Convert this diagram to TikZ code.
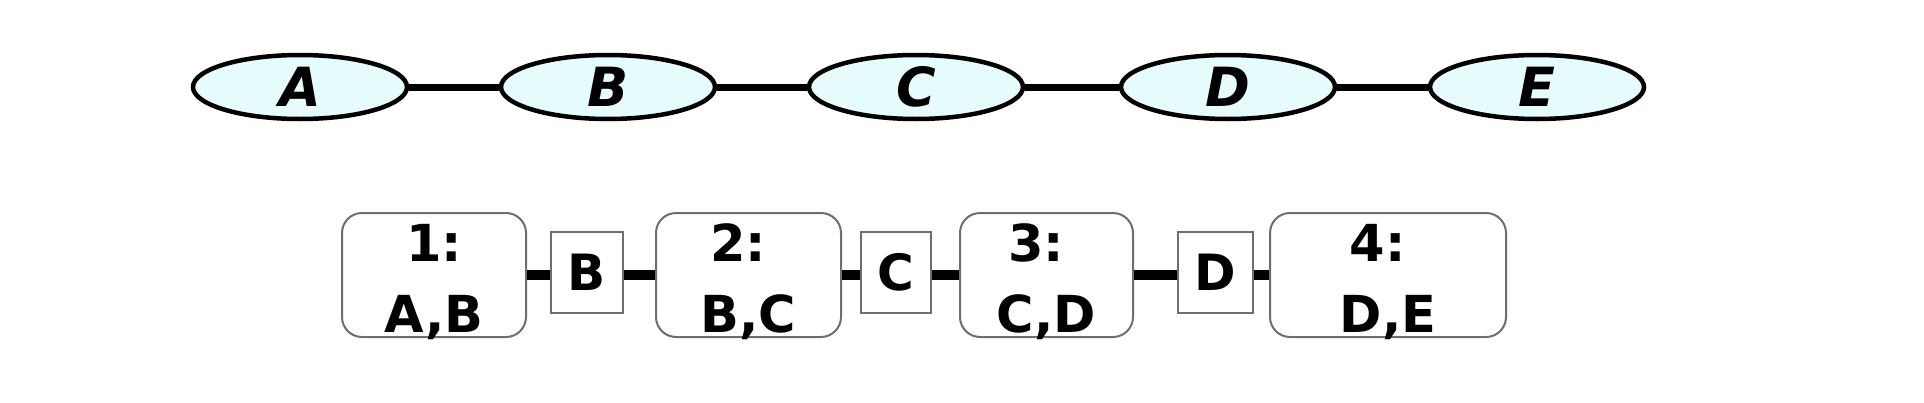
\documentclass[tikz,border=0pt]{standalone}
\usepackage{fontspec}
\setmainfont{DejaVu Sans}
\usetikzlibrary{shapes.geometric}
\definecolor{ellfill}{RGB}{230,252,252}
\definecolor{boxline}{RGB}{110,110,110}
\tikzset{
  varnode/.style={ellipse, draw=black, line width=4.5pt, fill=ellfill, inner sep=0pt,
    minimum width=214pt, minimum height=64pt, font=\fontsize{54}{60}\selectfont\bfseries\itshape},
  clique/.style={rectangle, rounded corners=20pt, draw=boxline, line width=2pt, inner sep=0pt,
    minimum height=124pt},
  cliquetext/.style={inner sep=0pt, align=center, font=\fontsize{51}{71}\selectfont\bfseries},
  sepbox/.style={rectangle, draw=boxline, line width=2pt, inner sep=0pt,
    minimum height=81pt, font=\fontsize{50}{60}\selectfont\bfseries},
  edgeline/.style={line width=7pt},
  sepline/.style={line width=10pt}
}
\begin{document}
\begin{tikzpicture}[x=1pt,y=-1pt]
\useasboundingbox (0,0) rectangle (1924,402);
% variable chain
\node[varnode] (A) at (300,87) {A};
\node[varnode] (B) at (608,87) {B};
\node[varnode] (C) at (916,87) {C};
\node[varnode] (D) at (1228,87) {D};
\node[varnode] (E) at (1537,87) {E};
\draw[edgeline] (A) -- (B);
\draw[edgeline] (B) -- (C);
\draw[edgeline] (C) -- (D);
\draw[edgeline] (D) -- (E);
% junction tree
\node[clique, minimum width=184pt] (k1) at (434,275) {};
\node[clique, minimum width=185pt] (k2) at (748.5,275) {};
\node[clique, minimum width=173pt] (k3) at (1046.5,275) {};
\node[clique, minimum width=236pt] (k4) at (1388,275) {};
\node[cliquetext] (t1) at ([yshift=-7pt]k1.center) {1:\\A,B};
\node[cliquetext] (t2) at ([yshift=-7pt]k2.center) {2:\hspace*{0.4em}\\B,C};
\node[cliquetext] (t3) at ([yshift=-7pt]k3.center) {3:\hspace*{0.4em}\\C,D};
\node[cliquetext] (t4) at ([yshift=-7pt]k4.center) {4:\hspace*{0.4em}\\D,E};
\node[sepbox, minimum width=72pt] (sB) at (587,272) {B};
\node[sepbox, minimum width=70pt] (sC) at (896,272) {C};
\node[sepbox, minimum width=75pt] (sD) at (1215,272) {D};
\draw[sepline] (k1.east |- 0,275) -- (sB.west |- 0,275);
\draw[sepline] (sB.east |- 0,275) -- (k2.west |- 0,275);
\draw[sepline] (k2.east |- 0,275) -- (sC.west |- 0,275);
\draw[sepline] (sC.east |- 0,275) -- (k3.west |- 0,275);
\draw[sepline] (k3.east |- 0,275) -- (sD.west |- 0,275);
\draw[sepline] (sD.east |- 0,275) -- (k4.west |- 0,275);
\end{tikzpicture}
\end{document}
